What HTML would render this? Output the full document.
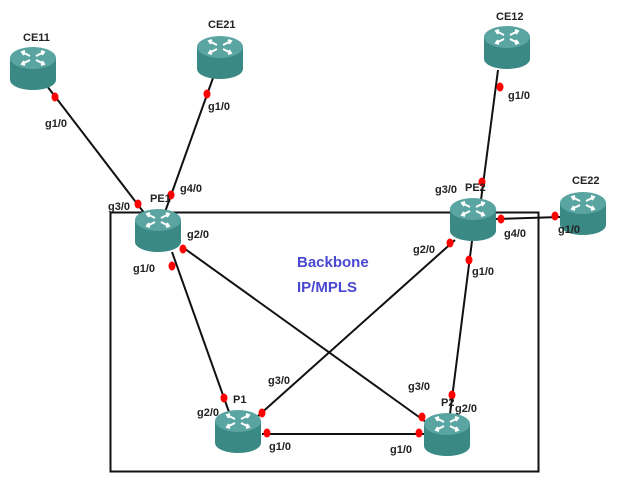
<!DOCTYPE html>
<html><head><meta charset="utf-8"><style>
html,body{margin:0;padding:0;background:#fff;}
svg{display:block;}
text{font-family:"Liberation Sans",sans-serif;font-weight:bold;font-size:11px;fill:#222;}
</style></head><body>
<svg width="622" height="489" viewBox="0 0 622 489" xmlns="http://www.w3.org/2000/svg">
<defs>
<g id="r">
  <path d="M0,11 L0,33 A23,10 0 0 0 46,33 L46,11 Z" fill="#3a8985"/>
  <ellipse cx="23" cy="11" rx="23" ry="11" fill="#5aa5a1"/>
  <g stroke="#fff" stroke-width="2" fill="none">
    <path d="M12,5 L20,9 M15,4 L12,5 L14,8"/>
    <path d="M34,17 L26,13 M31,18 L34,17 L32,14"/>
    <path d="M26,9 L34,5 M31,4 L34,5 L32,8"/>
    <path d="M20,13 L12,17 M15,18 L12,17 L14,14"/>
  </g>
</g>
</defs>
<rect x="110.5" y="212.5" width="428" height="259" fill="none" stroke="#111" stroke-width="2"/>
<g stroke="#111" stroke-width="2">
<line x1="47" y1="86" x2="145" y2="214"/>
<line x1="213" y1="78" x2="165" y2="212"/>
<line x1="172" y1="252" x2="229" y2="412"/>
<line x1="181" y1="246" x2="426" y2="422"/>
<line x1="455" y1="240" x2="258" y2="416"/>
<line x1="472" y1="241" x2="450" y2="414"/>
<line x1="262" y1="434" x2="424" y2="434"/>
<line x1="496" y1="219" x2="560" y2="217"/>
<line x1="498" y1="70" x2="481" y2="200"/>
</g>
<use href="#r" x="10" y="47"/>
<use href="#r" x="197" y="36"/>
<use href="#r" x="484" y="26"/>
<use href="#r" x="560" y="192"/>
<use href="#r" x="135" y="209"/>
<use href="#r" x="450" y="198"/>
<use href="#r" x="215" y="410"/>
<use href="#r" x="424" y="413"/>
<g fill="#f00">
<ellipse cx="55" cy="97" rx="3.5" ry="4.5"/>
<ellipse cx="138" cy="204" rx="3.5" ry="4.5"/>
<ellipse cx="207" cy="94" rx="3.5" ry="4.5"/>
<ellipse cx="171" cy="195" rx="3.5" ry="4.5"/>
<ellipse cx="172" cy="266" rx="3.5" ry="4.5"/>
<ellipse cx="183" cy="249" rx="3.5" ry="4.5"/>
<ellipse cx="224" cy="398" rx="3.5" ry="4.5"/>
<ellipse cx="422" cy="417" rx="3.5" ry="4.5"/>
<ellipse cx="262" cy="413" rx="3.5" ry="4.5"/>
<ellipse cx="267" cy="433" rx="3.5" ry="4.5"/>
<ellipse cx="419" cy="433" rx="3.5" ry="4.5"/>
<ellipse cx="452" cy="395" rx="3.5" ry="4.5"/>
<ellipse cx="450" cy="243" rx="3.5" ry="4.5"/>
<ellipse cx="469" cy="260" rx="3.5" ry="4.5"/>
<ellipse cx="501" cy="219" rx="3.5" ry="4.5"/>
<ellipse cx="555" cy="216" rx="3.5" ry="4.5"/>
<ellipse cx="500" cy="87" rx="3.5" ry="4.5"/>
<ellipse cx="482" cy="182" rx="3.5" ry="4.5"/>
</g>
<text x="23" y="41">CE11</text>
<text x="208" y="28">CE21</text>
<text x="496" y="20">CE12</text>
<text x="572" y="184">CE22</text>
<text x="150" y="202">PE1</text>
<text x="465" y="191">PE2</text>
<text x="233" y="403">P1</text>
<text x="441" y="406">P2</text>
<text x="45" y="127">g1/0</text>
<text x="208" y="110">g1/0</text>
<text x="508" y="99">g1/0</text>
<text x="558" y="233">g1/0</text>
<text x="108" y="210">g3/0</text>
<text x="180" y="192">g4/0</text>
<text x="187" y="238">g2/0</text>
<text x="133" y="272">g1/0</text>
<text x="435" y="193">g3/0</text>
<text x="504" y="237">g4/0</text>
<text x="413" y="253">g2/0</text>
<text x="472" y="275">g1/0</text>
<text x="268" y="384">g3/0</text>
<text x="197" y="416">g2/0</text>
<text x="269" y="450">g1/0</text>
<text x="408" y="390">g3/0</text>
<text x="455" y="412">g2/0</text>
<text x="390" y="453">g1/0</text>
<text x="297" y="267" style="fill:#4848d0;font-size:15px">Backbone</text>
<text x="297" y="292" style="fill:#4848d0;font-size:15px">IP/MPLS</text>
</svg>
</body></html>
